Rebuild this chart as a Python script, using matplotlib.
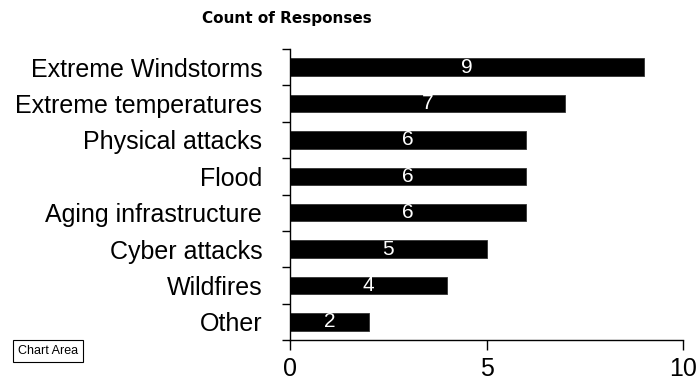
import matplotlib
matplotlib.use("Agg")
import matplotlib.pyplot as plt

categories = ["Extreme Windstorms", "Extreme temperatures", "Physical attacks", "Flood",
              "Aging infrastructure", "Cyber attacks", "Wildfires", "Other"]
counts = [9, 7, 6, 6, 6, 5, 4, 2]
x_ticks = [0, 5, 10]

plt.rcParams["font.family"] = ["Liberation Sans", "DejaVu Sans"]

fig = plt.figure(figsize=(6.99, 3.85), dpi=100)
ax = fig.add_axes([290 / 699, 1 - 340 / 385, (683 - 290) / 699, (340 - 49) / 385])

ypos = list(range(len(categories)))
ax.barh(ypos, counts, height=0.48, color="black", edgecolor="#333333", linewidth=0.6)

for y, v in zip(ypos, counts):
    ax.text(v / 2, y, str(v), color="white", ha="center", va="center", fontsize=15)

ax.set_xlim(0, 10)
ax.set_ylim(len(categories) - 0.5, -0.5)
ax.set_xticks(x_ticks)
ax.set_xticklabels([str(t) for t in x_ticks], fontsize=18)

# category names centred on the bars, ticks at the boundaries between them
ax.set_yticks(ypos)
ax.set_yticklabels(categories, fontsize=18)
ax.tick_params(axis="y", which="major", length=0, pad=20)
ax.set_yticks([i - 0.5 for i in range(len(categories) + 1)], minor=True)
ax.tick_params(axis="y", which="minor", length=6, width=1, direction="out")
ax.tick_params(axis="x", length=7, width=1, direction="out", pad=5)

for side in ("top", "right"):
    ax.spines[side].set_visible(False)
for side in ("left", "bottom"):
    ax.spines[side].set_linewidth(1)

fig.text(287 / 699, 1 - 19 / 385, "Count of Responses", ha="center", va="center",
         fontsize=11, fontweight="bold", family=["DejaVu Sans"])

fig.text(18 / 699, 1 - 351 / 385, "Chart Area", ha="left", va="center", fontsize=9,
         bbox=dict(boxstyle="square,pad=0.4", facecolor="white", edgecolor="black", linewidth=0.8))

fig.savefig("out.png", dpi=100)
